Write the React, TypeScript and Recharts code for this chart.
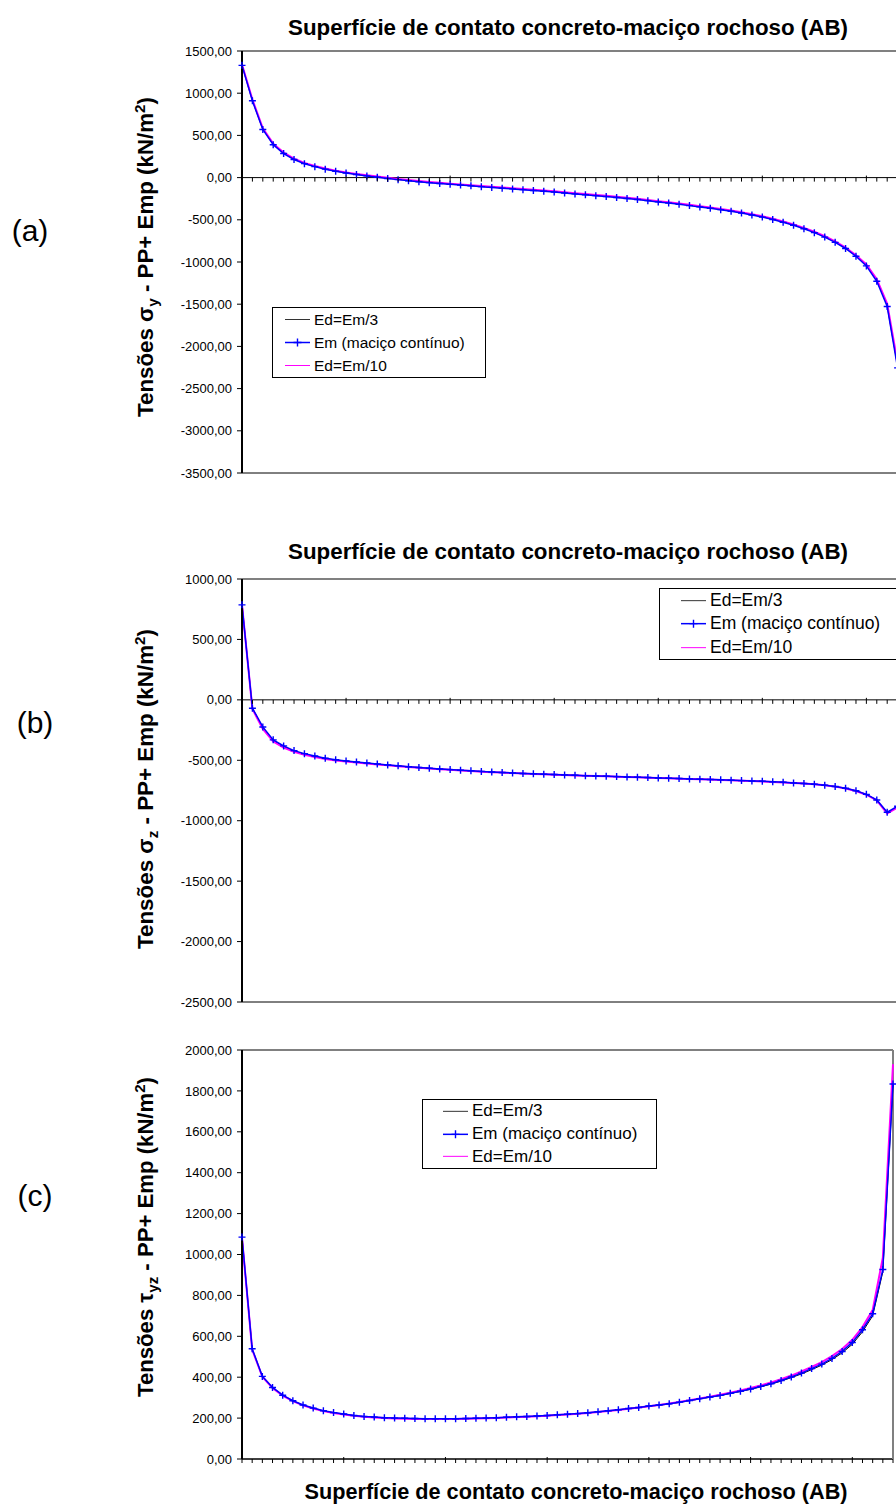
import React from 'react';
import { LineChart, Line, XAxis, YAxis, ReferenceLine, Legend } from 'recharts';

const FONT = '"Liberation Sans", Arial, sans-serif';

// (a) tensões sigma-y
const sigmaYEm3 = [1335, 915, 575, 394, 289, 219, 168, 133, 103, 78, 58, 40, 23, 8,
  -6, -20, -33, -45, -56, -66, -76, -85, -94, -103, -112, -121, -130, -139, -148,
  -157, -167, -177, -188, -199, -209, -220, -231, -243, -255, -268, -283, -297, -312, -327,
  -342, -358, -375, -394, -415, -438, -463, -492, -525, -560, -601, -647, -700, -762,
  -835, -926, -1038, -1216, -1512, -2230];
const sigmaYEm = [1330, 910, 570, 390, 285, 215, 165, 130, 100, 75, 55, 37, 20, 5,
  -10, -24, -37, -49, -60, -70, -80, -89, -98, -107, -116, -125, -134, -143, -152,
  -162, -172, -182, -193, -204, -214, -225, -236, -248, -260, -273, -288, -302, -317, -332,
  -347, -363, -380, -399, -420, -443, -468, -497, -530, -565, -606, -652, -705, -767,
  -840, -932, -1046, -1228, -1528, -2255];
const sigmaYEm10 = [1340, 925, 585, 402, 296, 225, 174, 138, 108, 82, 62, 44, 28, 13,
  -2, -16, -29, -41, -52, -62, -72, -81, -90, -99, -108, -117, -126, -135, -144,
  -153, -163, -173, -184, -195, -205, -216, -227, -239, -251, -264, -279, -293, -308, -323,
  -338, -354, -371, -390, -411, -434, -459, -488, -520, -555, -596, -642, -695, -757,
  -830, -920, -1030, -1205, -1495, -2200];
const sigmaYTicks = [1500, 1000, 500, 0, -500, -1000, -1500, -2000, -2500, -3000, -3500];

// (b) tensões sigma-z
const sigmaZEm3 = [786, -71, -230, -336, -386, -424, -449, -468, -486, -498, -507, -516, -525, -533, -540,
  -547, -554, -561, -567, -573, -578, -583, -588, -593, -598, -602, -606, -609, -612,
  -615, -618, -621, -624, -627, -630, -632, -635, -638, -640, -643, -646, -648, -651, -654,
  -656, -659, -662, -665, -668, -671, -674, -678, -682, -687, -692, -698, -706, -717, -732,
  -752, -783, -830, -933, -883];
const sigmaZEm = [786, -69, -224, -331, -381, -420, -445, -465, -483, -495, -505, -514, -523, -531, -539,
  -546, -553, -560, -566, -572, -577, -582, -587, -592, -597, -601, -605, -609, -612,
  -615, -618, -621, -624, -627, -630, -632, -635, -638, -640, -643, -646, -648, -651, -654,
  -656, -659, -662, -665, -668, -671, -674, -678, -682, -687, -692, -698, -706, -717, -732,
  -752, -782, -828, -930, -880];
const sigmaZEm10 = [786, -75, -240, -345, -395, -430, -455, -473, -490, -502, -511, -519, -527, -535, -542,
  -549, -556, -562, -568, -574, -579, -584, -589, -594, -598, -602, -606, -610, -613,
  -616, -619, -622, -625, -627, -630, -633, -636, -638, -641, -644, -646, -649, -652, -654,
  -657, -660, -663, -666, -669, -672, -675, -679, -683, -688, -693, -699, -707, -718, -733,
  -754, -785, -832, -940, -890];
const sigmaZTicks = [1000, 500, 0, -500, -1000, -1500, -2000, -2500];

// (c) tensões tau-yz
const tauEm3 = [1085, 537, 403, 349, 311, 284, 263, 248, 235, 226, 219, 212, 207, 204, 201,
  199, 198, 197, 196, 196, 196, 196, 197, 198, 199, 201, 203, 205, 207, 209,
  212, 215, 218, 221, 225, 230, 235, 240, 246, 251, 258, 263, 269, 277, 285,
  294, 302, 310, 320, 330, 341, 353, 366, 381, 398, 416, 437, 459, 486, 519,
  561, 622, 700, 915, 1830];
const tauEm = [1085, 539, 404, 350, 312, 285, 264, 249, 236, 227, 220, 213, 208, 205, 202,
  200, 199, 198, 197, 197, 197, 197, 198, 199, 200, 202, 204, 206, 208, 210,
  213, 216, 219, 222, 226, 231, 236, 241, 247, 252, 259, 264, 270, 278, 286,
  295, 303, 311, 321, 331, 342, 355, 368, 384, 401, 420, 442, 464, 492, 526,
  570, 632, 710, 927, 1834];
const tauEm10 = [1080, 535, 402, 347, 310, 283, 262, 247, 234, 225, 218, 211, 206, 203, 200,
  198, 197, 196, 196, 196, 196, 196, 197, 198, 199, 201, 203, 205, 207, 209,
  212, 215, 218, 221, 225, 230, 235, 240, 246, 252, 258, 264, 271, 279, 287,
  296, 305, 314, 324, 335, 347, 360, 374, 390, 408, 428, 450, 474, 503, 538,
  583, 645, 728, 985, 1930];
const tauTicks = [2000, 1800, 1600, 1400, 1200, 1000, 800, 600, 400, 200, 0];

const seriesNames = ['Ed=Em/3', 'Em (maciço contínuo)', 'Ed=Em/10'];
const chartTitle = 'Superfície de contato concreto-maciço rochoso (AB)';

const toRows = (a: number[], b: number[], c: number[]) =>
  a.map((v, i) => ({ i, em3: v, em: b[i], em10: c[i] }));

const fmt = (v: number) => v.toFixed(2).replace('.', ',');

const PlusDot = (props: any) => {
  const { cx, cy, index } = props;
  if (cx == null || cy == null) return <g key={index} />;
  return (
    <path key={index} d={`M${cx - 3.5},${cy}H${cx + 3.5}M${cx},${cy - 3.5}V${cy + 3.5}`}
      stroke="#0000FF" strokeWidth={1.4} fill="none" />
  );
};

const LegendBox = ({ width, height, font, pad }: any) => {
  const rowH = (height - 2) / 3;
  const colors = ['#333333', '#0000FF', '#FF00FF'];
  return (
    <div style={{ width, height, border: '1px solid #000', background: '#fff', boxSizing: 'border-box',
      fontFamily: FONT, fontSize: font, color: '#000' }}>
      {seriesNames.map((name, k) => (
        <div key={name} style={{ display: 'flex', alignItems: 'center', height: rowH }}>
          <svg width={pad + 25} height={rowH} style={{ flex: 'none' }}>
            <line x1={pad} x2={pad + 25} y1={rowH / 2} y2={rowH / 2} stroke={colors[k]}
              strokeWidth={k === 1 ? 1.5 : 1} />
            {k === 1 && (
              <path d={`M${pad + 8.5},${rowH / 2}H${pad + 16.5}M${pad + 12.5},${rowH / 2 - 4}V${rowH / 2 + 4}`}
                stroke="#0000FF" strokeWidth={1.4} />
            )}
          </svg>
          <span style={{ marginLeft: 4, whiteSpace: 'nowrap' }}>{name}</span>
        </div>
      ))}
    </div>
  );
};

type PanelProps = {
  top: number;
  height: number;
  plotTop: number;
  plotBottom: number;
  plotRight: number;
  rows: any[];
  domain: [number, number];
  ticks: number[];
  sub: string;
  labelCy: number;
  rightBorder: boolean;
  legend: { left: number; top: number; width: number; height: number; font: number; pad: number };
};

const Panel = (p: PanelProps) => {
  const W = 920;
  const n = p.rows.length;
  const idx = p.rows.map((r) => r.i);
  const mTop = p.plotTop - p.top;
  const mBottom = p.top + p.height - p.plotBottom;
  const zeroY = mTop + ((p.plotBottom - p.plotTop) * p.domain[1]) / (p.domain[1] - p.domain[0]);

  // category ticks sit on the zero line, a longer one every 10 points
  const xTick = (t: any) => {
    const big = t.payload.value % 10 === 0;
    return (
      <line key={`xt-${t.index}`} x1={t.x} x2={t.x} y1={big ? zeroY - 2 : zeroY} y2={zeroY + 4}
        stroke="#000" strokeWidth={1} />
    );
  };

  const yTitle = () => (
    <text transform={`translate(153, ${p.labelCy - p.top}) rotate(-90)`} textAnchor="middle"
      fontFamily={FONT} fontWeight="bold" fontSize={22} fill="#000"
      textLength={320} lengthAdjust="spacingAndGlyphs">
      {p.sub === 'yz' ? 'Tensões τ' : 'Tensões σ'}
      <tspan dy={5} fontSize={15}>{p.sub}</tspan>
      <tspan dy={-5}> - PP+ Emp (kN/m</tspan>
      <tspan dy={-8} fontSize={15}>2</tspan>
      <tspan dy={8}>)</tspan>
    </text>
  );

  return (
    <div style={{ position: 'absolute', left: 0, top: p.top }}>
      <LineChart width={W} height={p.height} data={p.rows}
        margin={{ top: mTop, right: W - p.plotRight, bottom: mBottom - 12, left: 0 }}>
        <XAxis dataKey="i" type="number" domain={[0, n - 1]} ticks={idx} interval={0} height={12}
          axisLine={false} tickLine={false} tick={xTick} />
        <YAxis type="number" domain={p.domain} ticks={p.ticks} interval={0} width={242} tickSize={5}
          tickMargin={5} tickFormatter={fmt} allowDataOverflow
          axisLine={{ stroke: '#000', strokeWidth: 2 }} tickLine={{ stroke: '#000' }}
          tick={{ fill: '#000', fontSize: 13, fontFamily: FONT }}
          label={{ content: yTitle }} />
        <ReferenceLine y={p.domain[1]} stroke="#808080" strokeWidth={2} />
        <ReferenceLine y={p.domain[0]} stroke="#000" strokeWidth={1} />
        <ReferenceLine y={0} stroke="#000" strokeWidth={1} />
        {p.rightBorder && <ReferenceLine x={n - 1} stroke="#808080" strokeWidth={2} />}
        <Line dataKey="em3" name={seriesNames[0]} stroke="#000" strokeWidth={1} dot={false}
          activeDot={false} isAnimationActive={false} />
        <Line dataKey="em10" name={seriesNames[2]} stroke="#FF00FF" strokeWidth={2} dot={false}
          activeDot={false} isAnimationActive={false} />
        <Line dataKey="em" name={seriesNames[1]} stroke="#0000FF" strokeWidth={1.5} dot={PlusDot}
          activeDot={false} isAnimationActive={false} />
        <Legend layout="vertical" align="center" verticalAlign="middle"
          wrapperStyle={{ left: p.legend.left, top: p.legend.top - p.top, width: p.legend.width,
            height: p.legend.height }}
          content={() => <LegendBox {...p.legend} />} />
      </LineChart>
    </div>
  );
};

export default function App() {
  return (
    <div style={{ position: 'absolute', left: 0, top: 0, width: 896, height: 1506, overflow: 'hidden',
      background: '#fff', fontFamily: FONT }}>
      <Panel top={0} height={500} plotTop={51} plotBottom={473} plotRight={897.6}
        rows={toRows(sigmaYEm3, sigmaYEm, sigmaYEm10)} domain={[-3500, 1500]} ticks={sigmaYTicks}
        sub="y" labelCy={257} rightBorder={false}
        legend={{ left: 272, top: 307, width: 214, height: 71, font: 15.5, pad: 12 }} />
      <Panel top={540} height={480} plotTop={579} plotBottom={1002} plotRight={897.6}
        rows={toRows(sigmaZEm3, sigmaZEm, sigmaZEm10)} domain={[-2500, 1000]} ticks={sigmaZTicks}
        sub="z" labelCy={789} rightBorder={false}
        legend={{ left: 659, top: 588, width: 245, height: 72, font: 17.5, pad: 21 }} />
      <Panel top={1030} height={476} plotTop={1050} plotBottom={1459} plotRight={893}
        rows={toRows(tauEm3, tauEm, tauEm10)} domain={[0, 2000]} ticks={tauTicks}
        sub="yz" labelCy={1237} rightBorder={true}
        legend={{ left: 422, top: 1099, width: 235, height: 70, font: 17, pad: 20 }} />
      <svg width={896} height={1506} style={{ position: 'absolute', left: 0, top: 0, pointerEvents: 'none' }}>
        <g fontFamily={FONT} fill="#000">
          <text x={568} y={35} textAnchor="middle" fontWeight="bold" fontSize={22} textLength={560}
            lengthAdjust="spacingAndGlyphs">{chartTitle}</text>
          <text x={568} y={559} textAnchor="middle" fontWeight="bold" fontSize={22} textLength={560}
            lengthAdjust="spacingAndGlyphs">{chartTitle}</text>
          <text x={576} y={1499} textAnchor="middle" fontWeight="bold" fontSize={22} textLength={543}
            lengthAdjust="spacingAndGlyphs">{chartTitle}</text>
          <text x={30} y={241} textAnchor="middle" fontSize={30}>(a)</text>
          <text x={35} y={733} textAnchor="middle" fontSize={30}>(b)</text>
          <text x={35} y={1206} textAnchor="middle" fontSize={30}>(c)</text>
        </g>
      </svg>
    </div>
  );
}
